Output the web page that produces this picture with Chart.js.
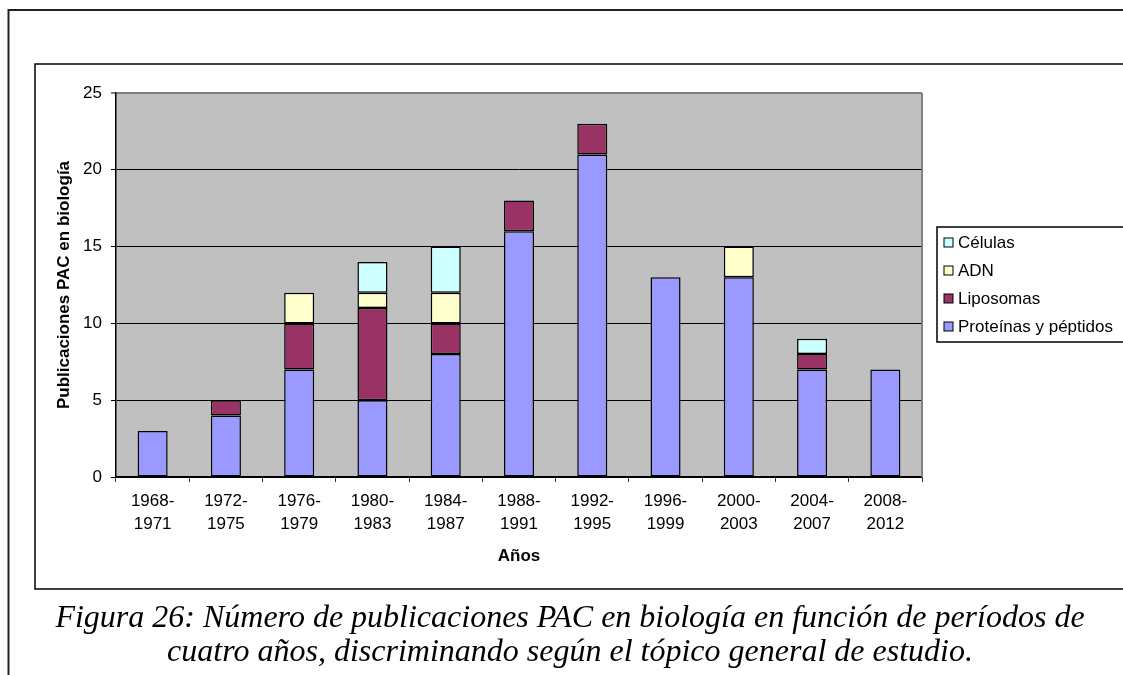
<!DOCTYPE html>
<html lang="es">
<head>
<meta charset="utf-8">
<title>Publicaciones PAC en biología</title>
<script src="https://cdn.jsdelivr.net/npm/chart.js@4.4.0/dist/chart.umd.min.js"></script>
<style>
  html, body { margin: 0; padding: 0; background: #fff; }
  #wrap { width: 1123px; height: 675px; position: relative; }
</style>
</head>
<body>
<div id="wrap"><canvas id="pacChart" width="1123" height="675"></canvas></div>

<script>
// datos
const periodos = [
  ['1968-', '1971'], ['1972-', '1975'], ['1976-', '1979'], ['1980-', '1983'],
  ['1984-', '1987'], ['1988-', '1991'], ['1992-', '1995'], ['1996-', '1999'],
  ['2000-', '2003'], ['2004-', '2007'], ['2008-', '2012']
];
const proteinas = [3, 4, 7, 5, 8, 16, 21, 13, 13, 7, 7];
const liposomas = [0, 1, 3, 6, 2, 2, 2, 0, 0, 1, 0];
const adn       = [0, 0, 2, 1, 2, 0, 0, 0, 2, 0, 0];
const celulas   = [0, 0, 0, 2, 3, 0, 0, 0, 0, 1, 0];
const yTicks = [0, 5, 10, 15, 20, 25];

const captionLines = [
  'Figura 26: Número de publicaciones PAC en biología en función de períodos de',
  'cuatro años, discriminando según el tópico general de estudio.'
];

const SANS = '"Liberation Sans", Arial, sans-serif';

// sin barra para los ceros
const noZero = arr => arr.map(v => v || null);

function serie(label, data, color) {
  return {
    label: label,
    data: noZero(data),
    backgroundColor: color,
    borderColor: '#000',
    borderWidth: 1.5,
    borderSkipped: false,
    categoryPercentage: 1,
    barPercentage: 0.41
  };
}

// marcos, fondo gris, leyenda y pie de figura
const marco = {
  id: 'marco',
  beforeDraw(chart) {
    const ctx = chart.ctx;
    const a = chart.chartArea;
    ctx.save();
    ctx.fillStyle = '#fff';
    ctx.fillRect(0, 0, chart.width, chart.height);

    ctx.strokeStyle = '#222';
    ctx.lineWidth = 2;
    ctx.beginPath();
    ctx.moveTo(1130, 10);
    ctx.lineTo(8.5, 10);
    ctx.lineTo(8.5, 680);
    ctx.stroke();

    ctx.strokeStyle = '#000';
    ctx.lineWidth = 1.5;
    ctx.strokeRect(35, 64, 1110, 525);

    ctx.fillStyle = '#c0c0c0';
    ctx.fillRect(a.left, a.top, a.right - a.left, a.bottom - a.top);
    ctx.restore();
  },
  afterDraw(chart) {
    const ctx = chart.ctx;
    const a = chart.chartArea;
    ctx.save();

    ctx.strokeStyle = '#808080';
    ctx.lineWidth = 2;
    ctx.beginPath();
    ctx.moveTo(a.right, a.top);
    ctx.lineTo(a.right, a.bottom);
    ctx.stroke();

    // leyenda
    ctx.fillStyle = '#fff';
    ctx.fillRect(937, 227, 200, 115);
    ctx.strokeStyle = '#000';
    ctx.lineWidth = 1.5;
    ctx.strokeRect(937, 227, 200, 115);
    ctx.font = '17px ' + SANS;
    ctx.textBaseline = 'middle';
    ctx.textAlign = 'left';
    const ds = chart.data.datasets.slice().reverse();
    ds.forEach((d, i) => {
      const y = 242 + i * 28;
      ctx.fillStyle = d.backgroundColor;
      ctx.fillRect(944, y - 4, 9, 9);
      ctx.strokeStyle = '#000';
      ctx.lineWidth = 1;
      ctx.strokeRect(944, y - 4, 9, 9);
      ctx.fillStyle = '#000';
      ctx.fillText(d.label, 958, y + 1);
    });

    // pie de figura
    ctx.font = 'italic 32px "Liberation Serif", "Times New Roman", serif';
    ctx.textAlign = 'center';
    ctx.textBaseline = 'alphabetic';
    ctx.fillStyle = '#000';
    ctx.fillText(captionLines[0], 570, 627);
    ctx.fillText(captionLines[1], 570, 661);
    ctx.restore();
  }
};

const ctx = document.getElementById('pacChart').getContext('2d');

const pacChart = new Chart(ctx, {
  type: 'bar',
  data: {
    labels: periodos,
    datasets: [
      serie('Proteínas y péptidos', proteinas, '#9999ff'),
      serie('Liposomas', liposomas, '#993366'),
      serie('ADN', adn, '#ffffcc'),
      serie('Células', celulas, '#ccffff')
    ]
  },
  options: {
    responsive: false,
    animation: false,
    devicePixelRatio: 1,
    layout: {
      padding: { top: 93, right: 201, bottom: 98, left: 40 }
    },
    plugins: {
      legend: { display: false },
      tooltip: { enabled: false }
    },
    scales: {
      x: {
        stacked: true,
        afterFit: s => { s.height = 100; },
        ticks: {
          color: '#000',
          font: { family: SANS, size: 17, lineHeight: 1.35 },
          padding: 8,
          maxRotation: 0,
          autoSkip: false
        },
        grid: {
          offset: true,
          drawOnChartArea: false,
          tickLength: 5,
          color: '#333'
        },
        border: { color: '#000', width: 1.5 },
        title: {
          display: true,
          text: 'Años',
          color: '#000',
          font: { family: SANS, size: 17, weight: 'bold' },
          padding: { top: 0, bottom: 10 }
        }
      },
      y: {
        stacked: true,
        min: 0,
        max: 25,
        afterFit: s => { s.width = 76; },
        afterBuildTicks: s => { s.ticks = yTicks.map(v => ({ value: v })); },
        ticks: {
          color: '#000',
          font: { family: SANS, size: 17 },
          padding: 9
        },
        grid: {
          color: c => (c.tick && c.tick.value === 25) ? '#808080' : '#000',
          lineWidth: c => (c.tick && c.tick.value === 25) ? 2 : 1,
          tickLength: 5
        },
        border: { color: '#000', width: 1.5 },
        title: {
          display: true,
          text: 'Publicaciones PAC en biología',
          color: '#000',
          font: { family: SANS, size: 17, weight: 'bold' },
          padding: { top: 14, bottom: 0 }
        }
      }
    }
  },
  plugins: [marco]
});
</script>
</body>
</html>
